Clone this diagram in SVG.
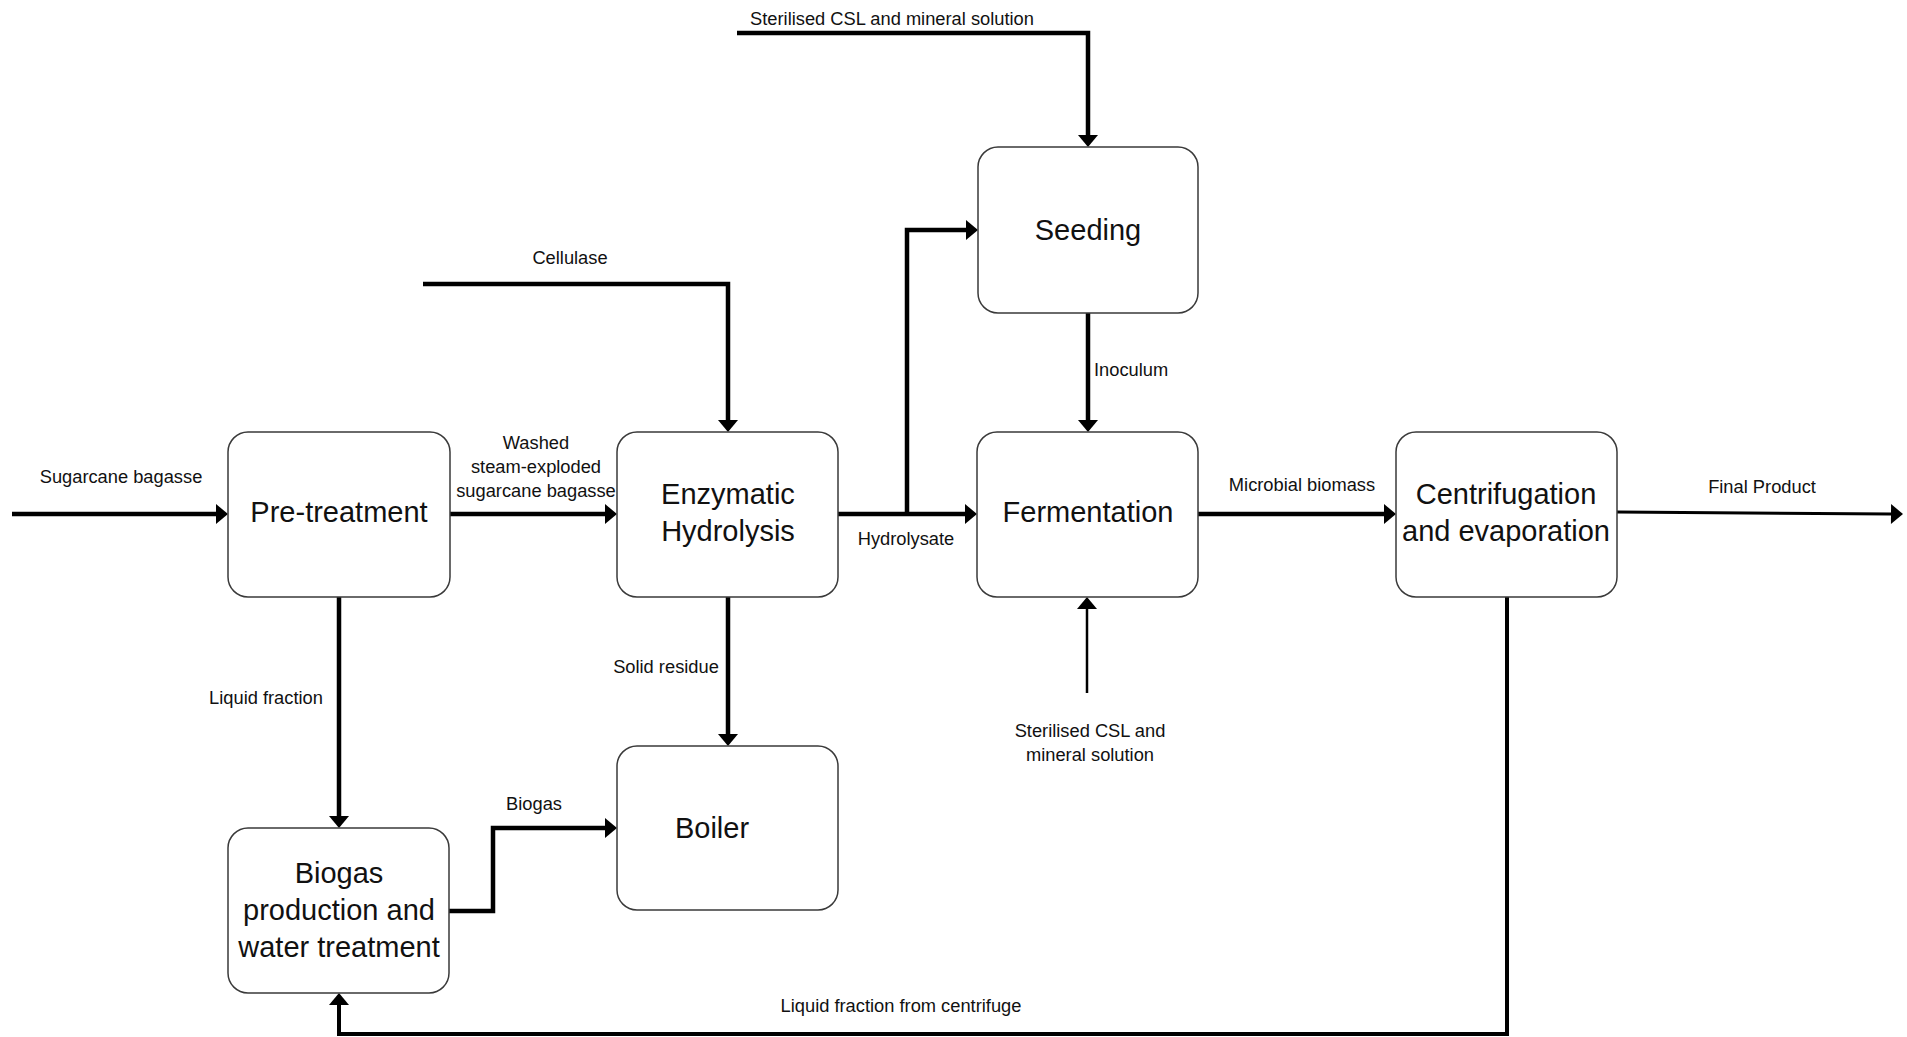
<svg xmlns="http://www.w3.org/2000/svg" width="1907" height="1037" viewBox="0 0 1907 1037">
<style>
  .box { fill: #ffffff; stroke: #3a3a3a; stroke-width: 1.5; }
  .bt { font-family: "Liberation Sans", Arial, sans-serif; font-size: 29px; fill: #111111; text-anchor: middle; }
  .lbl { font-family: "Liberation Sans", Arial, sans-serif; font-size: 18.3px; fill: #111111; }
  .c { text-anchor: middle; }
  .conn path { fill: none; stroke: #000000; stroke-width: 4.5; stroke-linejoin: miter; }
  .conn path.mid { stroke-width: 4; }
  .conn path.thin { stroke-width: 3; }
  .conn path.thinner { stroke-width: 2.5; }
</style>
<defs>
  <marker id="ah" markerUnits="userSpaceOnUse" markerWidth="14" markerHeight="22" refX="0" refY="10" orient="auto" overflow="visible">
    <path d="M0,0 L12,10 L0,20 z" fill="#000000"/>
  </marker>
</defs>
<rect width="1907" height="1037" fill="#ffffff"/>

<g id="connectors" class="conn">
  <path id="e-sugarcane" d="M12,514 H216" marker-end="url(#ah)"/>
  <path id="e-pre-enz" d="M450,514 H605" marker-end="url(#ah)"/>
  <path id="e-cellulase" d="M423,284 H728 V420" marker-end="url(#ah)"/>
  <path id="e-enz-ferm" d="M838,514 H965" marker-end="url(#ah)"/>
  <path id="e-hydro-seed" d="M907,514 V230 H966" marker-end="url(#ah)"/>
  <path id="e-csl-seed" d="M737,33 H1088 V135" marker-end="url(#ah)"/>
  <path id="e-seed-ferm" d="M1088,313 V420" marker-end="url(#ah)"/>
  <path id="e-csl-ferm" class="thinner" d="M1087,693 V609" marker-end="url(#ah)"/>
  <path id="e-ferm-cent" d="M1198,514 H1384" marker-end="url(#ah)"/>
  <path id="e-final" class="thin" d="M1617,512 L1891,514" marker-end="url(#ah)"/>
  <path id="e-pre-biogas" d="M339,597 V816" marker-end="url(#ah)"/>
  <path id="e-enz-boiler" d="M728,597 V734" marker-end="url(#ah)"/>
  <path id="e-biogas-boiler" d="M449,911 H493 V828 H605" marker-end="url(#ah)"/>
  <path id="e-return" class="mid" d="M1507,597 V1034 H339 V1005" marker-end="url(#ah)"/>
</g>

<g id="n-pretreatment">
  <rect class="box" x="228" y="432" width="222" height="165" rx="20"/>
  <text class="bt" x="339" y="522">Pre-treatment</text>
</g>
<g id="n-enzymatic">
  <rect class="box" x="617" y="432" width="221" height="165" rx="20"/>
  <text class="bt" x="728" y="504">Enzymatic</text>
  <text class="bt" x="728" y="541">Hydrolysis</text>
</g>
<g id="n-fermentation">
  <rect class="box" x="977" y="432" width="221" height="165" rx="20"/>
  <text class="bt" x="1088" y="522">Fermentation</text>
</g>
<g id="n-centrifugation">
  <rect class="box" x="1396" y="432" width="221" height="165" rx="20"/>
  <text class="bt" x="1506" y="504">Centrifugation</text>
  <text class="bt" x="1506" y="541">and evaporation</text>
</g>
<g id="n-seeding">
  <rect class="box" x="978" y="147" width="220" height="166" rx="20"/>
  <text class="bt" x="1088" y="240">Seeding</text>
</g>
<g id="n-boiler">
  <rect class="box" x="617" y="746" width="221" height="164" rx="20"/>
  <text class="bt" x="712" y="838">Boiler</text>
</g>
<g id="n-biogas">
  <rect class="box" x="228" y="828" width="221" height="165" rx="20"/>
  <text class="bt" x="339" y="883">Biogas</text>
  <text class="bt" x="339" y="920">production and</text>
  <text class="bt" x="339" y="957">water treatment</text>
</g>

<g id="labels">
  <text class="lbl c" x="892" y="25">Sterilised CSL and mineral solution</text>
  <text class="lbl c" x="570" y="264">Cellulase</text>
  <text class="lbl c" x="121" y="483">Sugarcane bagasse</text>
  <text class="lbl c" x="536" y="449">Washed</text>
  <text class="lbl c" x="536" y="473">steam-exploded</text>
  <text class="lbl c" x="536" y="497">sugarcane bagasse</text>
  <text class="lbl c" x="906" y="545">Hydrolysate</text>
  <text class="lbl" x="1094" y="376">Inoculum</text>
  <text class="lbl c" x="1302" y="491">Microbial biomass</text>
  <text class="lbl c" x="1762" y="493">Final Product</text>
  <text class="lbl c" x="666" y="673">Solid residue</text>
  <text class="lbl c" x="266" y="704">Liquid fraction</text>
  <text class="lbl c" x="534" y="810">Biogas</text>
  <text class="lbl c" x="1090" y="737">Sterilised CSL and</text>
  <text class="lbl c" x="1090" y="761">mineral solution</text>
  <text class="lbl c" x="901" y="1012">Liquid fraction from centrifuge</text>
</g>
</svg>
